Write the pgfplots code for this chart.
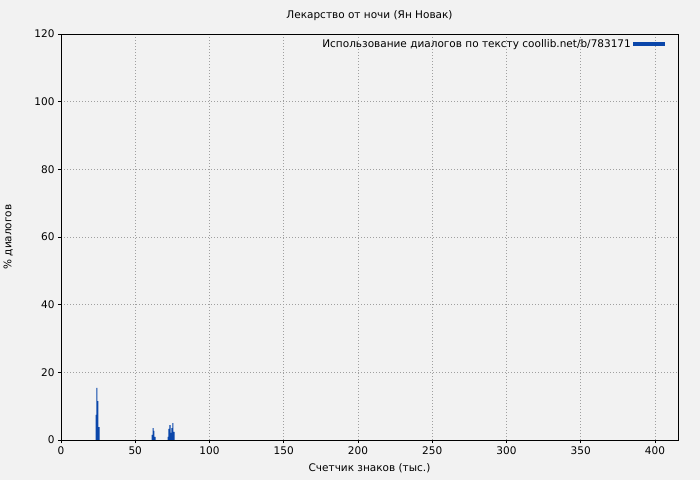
\documentclass[border=0pt]{standalone}
\usepackage{pgfplots}
\pgfplotsset{compat=1.18}
\usepackage{fontspec}
\setmainfont{DejaVu Sans}
\definecolor{bg}{RGB}{242,242,242}
\definecolor{barblue}{RGB}{10,70,170}
\definecolor{gridgray}{RGB}{160,160,160}
\begin{document}
\begin{tikzpicture}[font=\fontsize{10.5bp}{12bp}\selectfont]
\fill[bg] (0,0) rectangle (700bp,480bp);
\begin{axis}[
  at={(61bp,40bp)}, anchor=south west,
  width=617bp, height=406bp, scale only axis,
  xmin=0, xmax=415.5, ymin=0, ymax=120,
  xtick={0,50,...,400}, ytick={0,20,...,120},
  tick align=outside, tick pos=left,
  major tick length=3bp,
  /pgf/number format/assume math mode=true,
  ticklabel style={font=\fontsize{10.5bp}{12bp}\selectfont},
  grid=major,
  major grid style={gridgray, dash pattern=on 1.2bp off 1.8bp, line width=0.6bp},
  axis line style={line width=0.8bp},
  tick style={black, line width=0.6bp},
  title={Лекарство от ночи (Ян Новак)},
  title style={at={(axis description cs:0.5,1.0295)}, anchor=center, font=\fontsize{10.5bp}{12bp}\selectfont},
  xlabel={Счетчик знаков (тыс.)},
  xlabel style={at={(axis description cs:0.5,-0.069)}, anchor=center},
  ylabel={\% диалогов},
  ylabel style={at={(axis description cs:-0.0855,0.5)}, anchor=center},
  legend plot pos=right,
  legend style={draw=none, fill=none, at={(rel axis cs:1,1)}, anchor=north east, xshift=-10bp, yshift=-1bp, font=\fontsize{10.5bp}{12bp}\selectfont},
  legend image code/.code={\fill[barblue] (0bp,-2.2bp) rectangle (32bp,2.2bp);},
]
\addplot[ybar, bar width=0.68, fill=barblue, draw=none] coordinates {
(23.6,7.4) (24.2,15.4) (24.9,11.5) (25.6,3.8)
(61.3,1.5) (62.0,3.5) (62.6,2.7) (63.3,0.9)
(72.1,0.9) (72.7,3.3) (73.4,4.4) (74.1,2.1) (74.7,3.5) (75.4,5.0) (76.1,2.4)
};
\addlegendentry{Использование диалогов по тексту coollib.net/b/783171}
\end{axis}
\end{tikzpicture}
\end{document}
